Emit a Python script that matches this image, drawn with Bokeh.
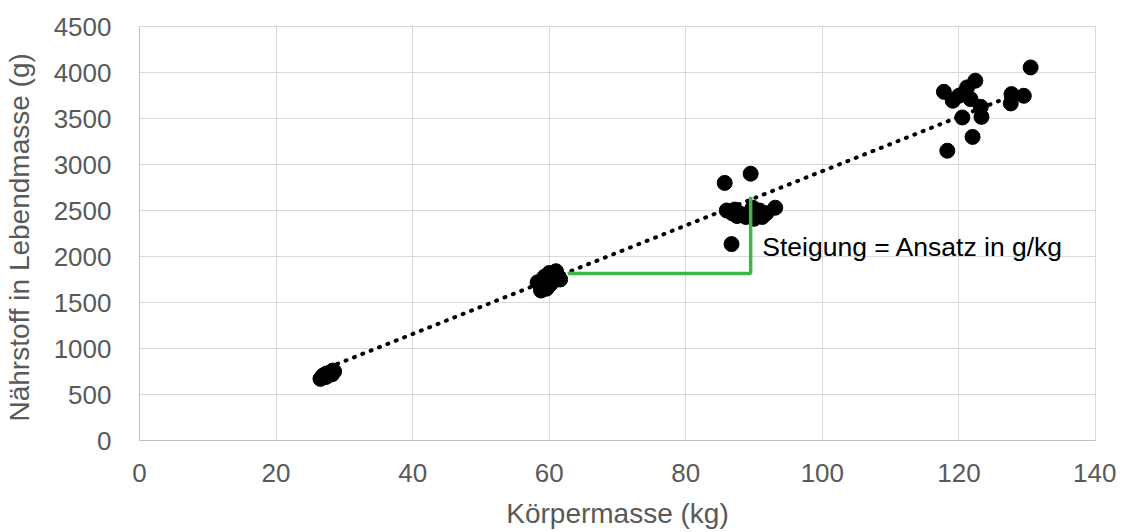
import numpy as np
from bokeh.plotting import figure
from bokeh.models import Range1d, SingleIntervalTicker, Label, ColumnDataSource
from bokeh.embed import file_html
from bokeh.resources import INLINE

# --- data ---
mass_kg = [
    # ~27 kg group
    26.5, 26.8, 27.0, 27.3, 27.5, 27.7, 28.0, 28.2, 28.5, 27.2, 28.3,
    # ~60 kg group
    58.3, 58.8, 59.0, 59.3, 59.6, 59.8, 60.2, 60.5, 60.8, 61.0, 61.3, 61.6, 60.0,
    # ~89 kg group
    85.7, 89.5, 86.7, 93.1, 86.0, 86.8, 87.5, 88.2, 88.8, 89.4, 90.0, 90.5, 91.2, 91.8, 87.2, 89.8, 90.8,
    # ~122 kg group
    117.8, 118.3, 122.0, 130.5, 127.7, 129.5, 127.6, 120.5, 123.3, 123.2, 122.4, 121.2, 119.1, 120.0, 120.8, 121.7,
]
nutrient_g = [
    670, 700, 710, 690, 730, 710, 740, 720, 750, 720, 760,
    1720, 1630, 1680, 1780, 1650, 1740, 1700, 1800, 1760, 1840, 1780, 1750, 1820,
    2800, 2900, 2135, 2530, 2500, 2470, 2440, 2460, 2430, 2480, 2410, 2450, 2430, 2470, 2510, 2530, 2500,
    3790, 3150, 3300, 4055, 3765, 3747, 3664, 3511, 3518, 3627, 3911, 3838, 3693, 3747, 3783, 3711,
]

# linear trend line (g per kg, g)
trend_slope = 29.5
trend_intercept = -22

# slope marker (green right angle)
slope_x = [62.7, 89.5, 89.5]
slope_y = [1815, 1815, 2650]

note_text = "Steigung = Ansatz in g/kg"
note_x = 91.2
note_y = 2100

x_title = "Körpermasse (kg)"
y_title = "Nährstoff  in Lebendmasse (g)"

FONT = "Liberation Sans"
GREY = "#595959"

p = figure(
    frame_width=956, frame_height=414,
    min_border_left=138, min_border_right=21, min_border_top=26, min_border_bottom=84,
    x_range=Range1d(0, 140), y_range=Range1d(0, 4500),
    output_backend="svg", toolbar_location=None,
)
p.outline_line_color = "#d9d9d9"
p.background_fill_color = "white"
p.border_fill_color = "white"

p.xaxis.ticker = SingleIntervalTicker(interval=20)
p.yaxis.ticker = SingleIntervalTicker(interval=500)
for ax in (p.xaxis, p.yaxis):
    ax.major_tick_line_color = None
    ax.minor_tick_line_color = None
    ax.axis_line_color = "#bfbfbf"
    ax.major_label_text_font = FONT
    ax.major_label_text_font_size = "26px"
    ax.major_label_text_color = GREY
    ax.axis_label_text_font = FONT
    ax.axis_label_text_font_size = "28px"
    ax.axis_label_text_font_style = "normal"
    ax.axis_label_text_color = GREY
p.xaxis.axis_label = x_title
p.yaxis.axis_label = y_title
p.xaxis.major_label_standoff = 17
p.yaxis.major_label_standoff = 22
p.xaxis.axis_label_standoff = 13
p.yaxis.axis_label_standoff = 16

p.xgrid.grid_line_color = "#d9d9d9"
p.ygrid.grid_line_color = "#d9d9d9"

# trend line across the range of the data
xa = np.array(mass_kg)
tx = np.array([xa.min(), xa.max()])
p.line(tx, trend_slope * tx + trend_intercept, line_color="black", line_width=4,
       line_dash="1 8", line_cap="round")

src = ColumnDataSource(dict(x=mass_kg, y=nutrient_g))
p.scatter("x", "y", source=src, size=15, fill_color="black", line_color="black")

p.line(slope_x, slope_y, line_color="#3fb54a", line_width=3.5)

p.add_layout(Label(x=note_x, y=note_y, text=note_text, text_font=FONT,
                   text_font_size="26.5px", text_color="black", text_baseline="middle"))

open("out.html", "w").write(file_html(p, INLINE))
